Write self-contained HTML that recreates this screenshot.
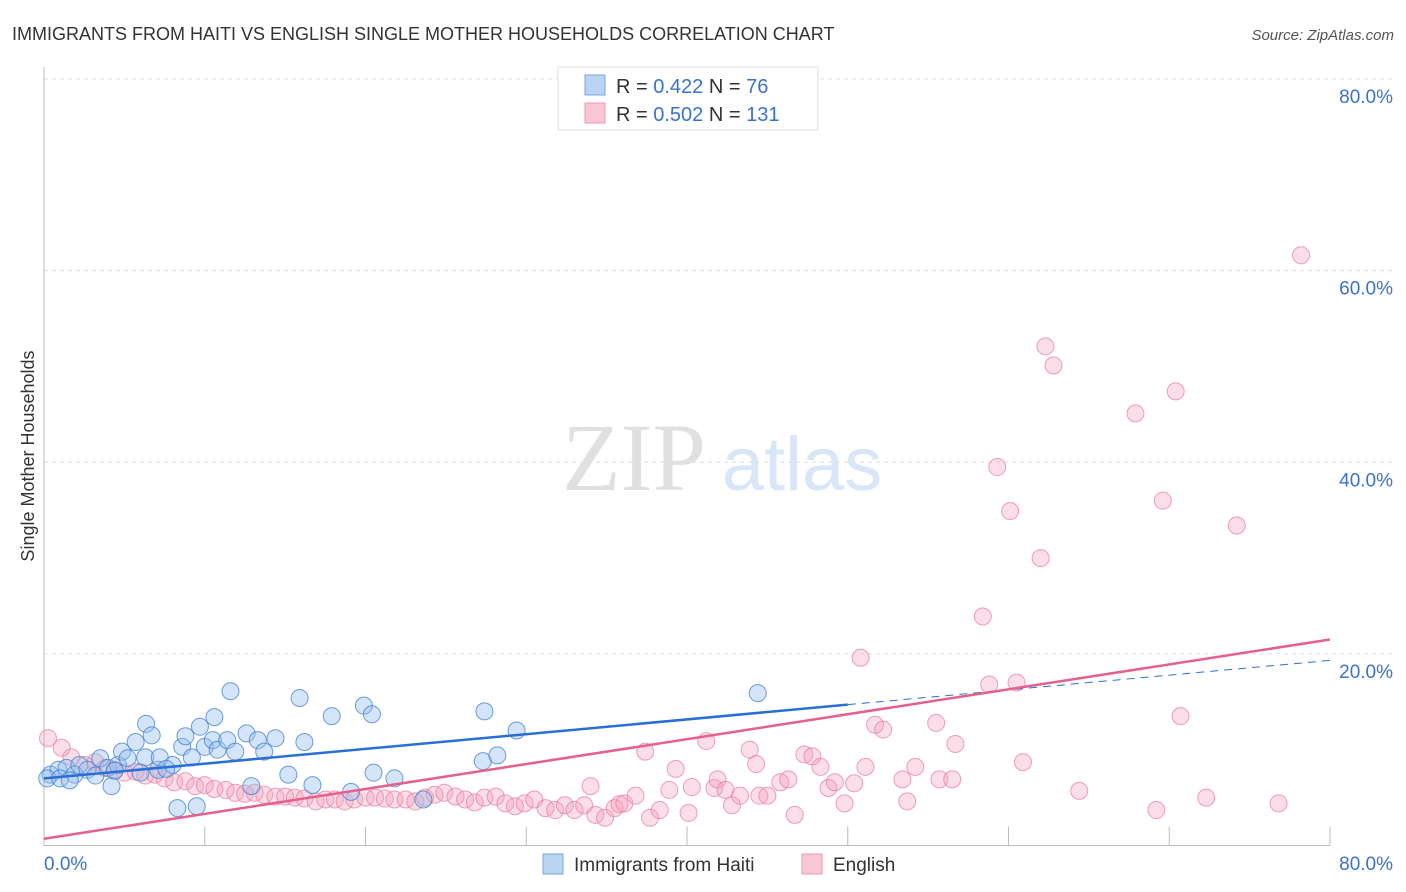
<!DOCTYPE html>
<html><head><meta charset="utf-8"><style>
body{margin:0;background:#fff;font-family:"Liberation Sans",sans-serif}
svg{display:block}
</style></head><body>
<svg id="c" width="1406" height="892" xmlns="http://www.w3.org/2000/svg">
<text x="12" y="40" font-size="18" fill="#333">IMMIGRANTS FROM HAITI VS ENGLISH SINGLE MOTHER HOUSEHOLDS CORRELATION CHART</text>
<text x="1394" y="40" font-size="15" fill="#555" font-style="italic" text-anchor="end">Source: ZipAtlas.com</text>
<text x="34" y="456" font-size="18" fill="#333" transform="rotate(-90 34 456)" text-anchor="middle">Single Mother Households</text>
<g opacity="0.25">
<text x="634" y="490" font-size="96" font-family="Liberation Serif,serif" fill="#888" text-anchor="middle">ZIP</text>
<text x="802" y="490" font-size="76" fill="#6a9fe0" text-anchor="middle">atlas</text>
</g>
<g id="grid"></g><g id="axes"></g><g id="pts"></g><g id="lines"></g>
<g>
<rect x="558" y="67" width="260" height="63" fill="#fff" stroke="#ddd"/>
<rect x="585" y="75" width="20" height="20" fill="#b9d3f3" stroke="#7aa6e0"/>
<rect x="585" y="103" width="20" height="20" fill="#f9c6d4" stroke="#ec9ab2"/>
<text x="616" y="93" font-size="20" fill="#333">R = <tspan fill="#3a72d0">0.422</tspan>   N = <tspan fill="#3a72d0"> 76</tspan></text>
<text x="616" y="121" font-size="20" fill="#333">R = <tspan fill="#3a72d0">0.502</tspan>   N = <tspan fill="#3a72d0">131</tspan></text>
</g>
<g>
<rect x="543" y="854" width="20" height="20" fill="#b9d3f3" stroke="#7aa6e0"/>
<text x="574" y="871" font-size="19" fill="#333">Immigrants from Haiti</text>
<rect x="802" y="854" width="20" height="20" fill="#f9c6d4" stroke="#ec9ab2"/>
<text x="833" y="871" font-size="19" fill="#333">English</text>
</g>
</svg>
<script>
const yTicks=[20,40,60,80];
const yTickLabels=["20.0%","40.0%","60.0%","80.0%"];
const xTicks=[10,20,30,40,50,60,70,80];
const blueX=[0.4,0.9,1.4,1.9,2.2,2.7,3.2,3.5,3.98,4.2,4.6,4.85,5.2,5.7,6.3,6.35,6.7,7.1,7.2,8.0,8.3,8.6,8.8,9.2,9.5,9.7,10.0,10.5,10.6,10.8,11.4,11.6,11.9,12.6,12.9,13.3,13.7,14.4,15.2,15.9,16.2,16.7,17.9,19.1,19.9,20.4,20.5,21.8,23.6,27.3,27.4,28.2,29.4,44.4,0.2,1.0,1.6,4.4,7.6,6.0];
const blueY=[7.4,7.9,8.1,7.4,8.4,7.9,7.3,9.1,8.1,6.2,8.4,9.8,9.1,10.8,9.2,12.7,11.5,7.9,9.2,8.4,3.9,10.3,11.4,9.2,4.1,12.4,10.3,11.0,13.4,10.0,11.0,16.1,9.8,11.7,6.2,11.0,9.8,11.2,7.4,15.4,10.8,6.3,13.5,5.6,14.6,13.7,7.6,7.0,4.8,8.8,14.0,9.4,12.0,15.9,7.0,7.0,6.8,7.8,8.0,7.6];
const pinkX=[0.25,1.1,1.7,2.55,3.2,3.8,4.4,5.0,5.7,6.3,6.9,7.5,8.1,8.8,9.4,10.0,10.6,11.3,11.9,12.5,13.1,13.7,14.4,15.0,15.6,16.2,16.9,17.5,18.1,18.7,19.3,20.0,20.6,21.2,21.8,22.5,23.1,23.7,24.3,24.9,25.6,26.2,26.8,27.4,28.1,28.7,29.3,29.9,30.5,31.2,31.8,32.4,33.0,33.6,34.0,34.3,34.9,35.5,35.8,36.1,36.8,37.4,37.7,38.3,38.9,39.3,40.1,40.3,41.2,41.7,41.9,42.4,42.8,43.3,43.9,44.3,44.5,45.0,45.8,46.3,46.7,47.3,47.8,48.3,48.8,49.2,49.8,50.4,50.8,51.1,51.7,52.2,53.4,53.7,54.2,55.5,55.7,56.5,56.7,58.4,58.8,59.3,60.1,60.5,62.0,62.3,62.8,64.4,67.9,69.2,69.6,70.4,70.7,72.3,74.2,76.8,78.2,60.9];
const pinkY=[11.2,10.2,9.2,8.4,8.7,8.1,7.9,7.6,7.7,7.3,7.4,7.0,6.6,6.7,6.2,6.3,5.9,5.8,5.5,5.4,5.5,5.3,5.1,5.1,5.0,4.9,4.6,4.8,4.8,4.6,4.8,5.0,5.0,4.9,4.8,4.8,4.6,5.0,5.3,5.5,5.1,4.8,4.5,5.0,5.1,4.4,4.1,4.4,4.8,3.9,3.7,4.2,3.7,4.2,6.2,3.2,2.9,3.9,4.3,4.4,5.2,9.8,2.9,3.7,5.8,8.0,3.4,6.1,10.9,6.0,6.9,5.8,4.2,5.2,10.0,8.5,5.2,5.2,6.6,6.9,3.2,9.5,9.3,8.2,6.0,6.6,4.4,6.5,19.6,8.2,12.6,12.1,6.9,4.6,8.2,12.8,6.9,6.9,10.6,23.9,16.8,39.5,34.9,17.0,30.0,52.1,50.1,5.7,45.1,3.7,36.0,47.4,13.5,5.0,33.4,4.4,61.6,8.7];
const blueFit=[7.0,0.154];
const pinkFit=[0.7,0.26];
const NS="http://www.w3.org/2000/svg";
const X0=44,X1=1330,Y0=845.5,Y1=79;
const sx=v=>X0+(X1-X0)*v/80;
const sy=v=>Y0-(Y0-Y1)*v/80;
function mk(tag,attrs,parent){const e=document.createElementNS(NS,tag);for(const k in attrs)e.setAttribute(k,attrs[k]);parent.appendChild(e);return e;}
const grid=document.getElementById('grid'),axes=document.getElementById('axes'),pts=document.getElementById('pts'),lines=document.getElementById('lines');
yTicks.forEach((t,i)=>{
 const l=mk('line',{x1:X0,x2:1394,y1:sy(t),y2:sy(t),stroke:'#ddd','stroke-dasharray':'4,4'},grid);
 
 
 const tx=mk('text',{x:1393,y:sy(t)+24,'font-size':19,fill:'#3a72d0','text-anchor':'end'},axes);
 tx.textContent=yTickLabels[i];
 
 
});
const ax=mk('line',{x1:X0,x2:X0,y1:67,y2:Y0,stroke:'#bbb'},axes);


const bx=mk('line',{x1:X0,x2:X1,y1:Y0,y2:Y0,stroke:'#bbb'},axes);


xTicks.forEach(t=>{
 const l=mk('line',{x1:sx(t),x2:sx(t),y1:Y0-19,y2:Y0,stroke:'#bbb'},axes);
 
 
});
const xl=mk('text',{x:44,y:870,'font-size':19,fill:'#3a72d0'},axes);xl.textContent='0.0%';


const xr=mk('text',{x:1393,y:870,'font-size':19,fill:'#3a72d0','text-anchor':'end'},axes);xr.textContent='80.0%';


pinkX.forEach((x,i)=>{
 const c=mk('circle',{cx:sx(x),cy:sy(pinkY[i]),r:8.5,fill:'rgba(244,160,185,0.35)',stroke:'rgba(232,120,155,0.7)','stroke-width':1},pts);
 
 
});
blueX.forEach((x,i)=>{
 const c=mk('circle',{cx:sx(x),cy:sy(blueY[i]),r:8.5,fill:'rgba(150,190,240,0.4)',stroke:'rgba(60,125,210,0.75)','stroke-width':1},pts);
 
 
});
const bl=mk('line',{x1:sx(0),y1:sy(blueFit[0]),x2:sx(50),y2:sy(blueFit[0]+blueFit[1]*50),stroke:'#2a6fd6','stroke-width':2.5},lines);


const bd=mk('line',{x1:sx(50),y1:sy(blueFit[0]+blueFit[1]*50),x2:sx(80),y2:sy(blueFit[0]+blueFit[1]*80),stroke:'#2a6fd6','stroke-width':1,'stroke-dasharray':'8,6'},lines);


const pl=mk('line',{x1:sx(0),y1:sy(pinkFit[0]),x2:sx(80),y2:sy(pinkFit[0]+pinkFit[1]*80),stroke:'#e5608a','stroke-width':2.5},lines);


</script>
</body></html>
